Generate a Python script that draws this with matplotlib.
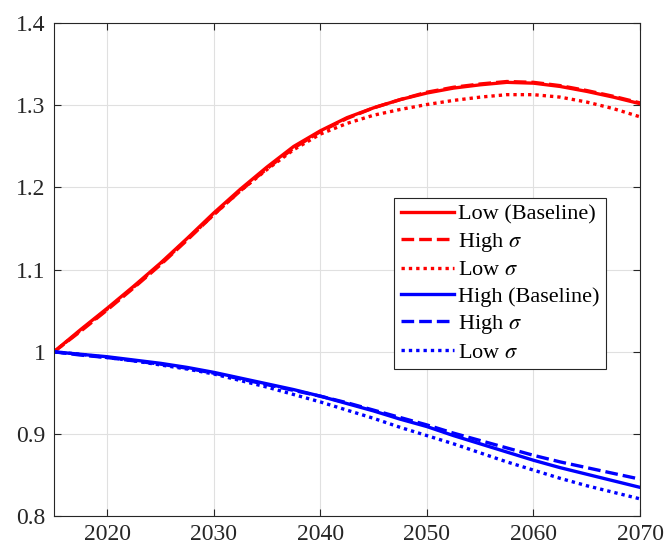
import matplotlib
matplotlib.use("Agg")
import matplotlib.pyplot as plt

# Donnees (pas de 2.5 ans)
annees = [2015, 2017.5, 2020, 2022.5, 2025, 2027.5, 2030, 2032.5, 2035, 2037.5, 2040, 2042.5,
          2045, 2047.5, 2050, 2052.5, 2055, 2057.5, 2060, 2062.5, 2065, 2067.5, 2070]

low_base = [1.000, 1.027, 1.053, 1.080, 1.108, 1.138, 1.169, 1.198, 1.225, 1.250, 1.269, 1.285,
            1.297, 1.307, 1.315, 1.321, 1.325, 1.328, 1.327, 1.323, 1.317, 1.310, 1.302]
low_high = [1.000, 1.025, 1.051, 1.078, 1.106, 1.136, 1.167, 1.196, 1.223, 1.248, 1.268, 1.284,
            1.297, 1.307, 1.316, 1.322, 1.326, 1.329, 1.328, 1.324, 1.318, 1.311, 1.303]
low_low = [1.000, 1.026, 1.052, 1.079, 1.107, 1.137, 1.167, 1.196, 1.222, 1.246, 1.265, 1.278,
           1.288, 1.295, 1.301, 1.306, 1.310, 1.313, 1.313, 1.310, 1.304, 1.296, 1.286]

high_base = [1.000, 0.997, 0.994, 0.990, 0.986, 0.981, 0.975, 0.968, 0.961, 0.954, 0.946, 0.937,
             0.928, 0.918, 0.909, 0.898, 0.888, 0.878, 0.868, 0.859, 0.851, 0.843, 0.835]
high_high = [1.000, 0.996, 0.993, 0.989, 0.985, 0.980, 0.974, 0.967, 0.960, 0.953, 0.946, 0.938,
             0.929, 0.920, 0.911, 0.901, 0.892, 0.883, 0.874, 0.866, 0.859, 0.852, 0.845]
high_low = [1.000, 0.997, 0.993, 0.989, 0.984, 0.979, 0.973, 0.965, 0.957, 0.948, 0.939, 0.929,
            0.919, 0.908, 0.898, 0.888, 0.877, 0.866, 0.856, 0.846, 0.837, 0.829, 0.821]

labels = ["Low (Baseline)", r"High $\sigma$", r"Low $\sigma$",
          "High (Baseline)", r"High $\sigma$", r"Low $\sigma$"]

plt.rcParams["font.family"] = ["Liberation Serif", "DejaVu Serif"]
plt.rcParams["mathtext.fontset"] = "stix"

fig = plt.figure(figsize=(6.66, 5.52), dpi=100)
ax = fig.add_axes([0.081, 0.065, 0.880, 0.893])

lw = 2.4
tirets = (0, (3.8, 1.5))
points = (0, (1, 1.2))
ax.plot(annees, low_base, color="#ff0000", lw=lw, ls="-", label=labels[0])
ax.plot(annees, low_high, color="#ff0000", lw=lw, ls=tirets, label=labels[1])
ax.plot(annees, low_low, color="#ff0000", lw=lw, ls=points, label=labels[2])
ax.plot(annees, high_base, color="#0000ff", lw=lw, ls="-", label=labels[3])
ax.plot(annees, high_high, color="#0000ff", lw=lw, ls=tirets, label=labels[4])
ax.plot(annees, high_low, color="#0000ff", lw=lw, ls=points, label=labels[5])

ax.set_xlim(2015, 2070)
ax.set_ylim(0.8, 1.4)
ax.set_xticks([2020, 2030, 2040, 2050, 2060, 2070])
ax.set_yticks([0.8, 0.9, 1.0, 1.1, 1.2, 1.3, 1.4])
ax.set_yticklabels(["0.8", "0.9", "1", "1.1", "1.2", "1.3", "1.4"])
ax.tick_params(direction="in", top=True, right=True, labelsize=17, colors="#262626",
               length=5, width=0.8, pad=6)
ax.grid(True, color="#e0e0e0", lw=0.8)
for s in ax.spines.values():
    s.set_color("#262626")
    s.set_linewidth(0.8)

leg = ax.legend(loc="upper left", bbox_to_anchor=(0.58, 0.646), fontsize=16,
                frameon=True, fancybox=False, edgecolor="#262626", framealpha=1,
                handlelength=2.4, handletextpad=0.2, labelspacing=0.27,
                borderpad=0.3, borderaxespad=0)
leg.get_frame().set_linewidth(0.8)

plt.savefig("out.png", dpi=100)
